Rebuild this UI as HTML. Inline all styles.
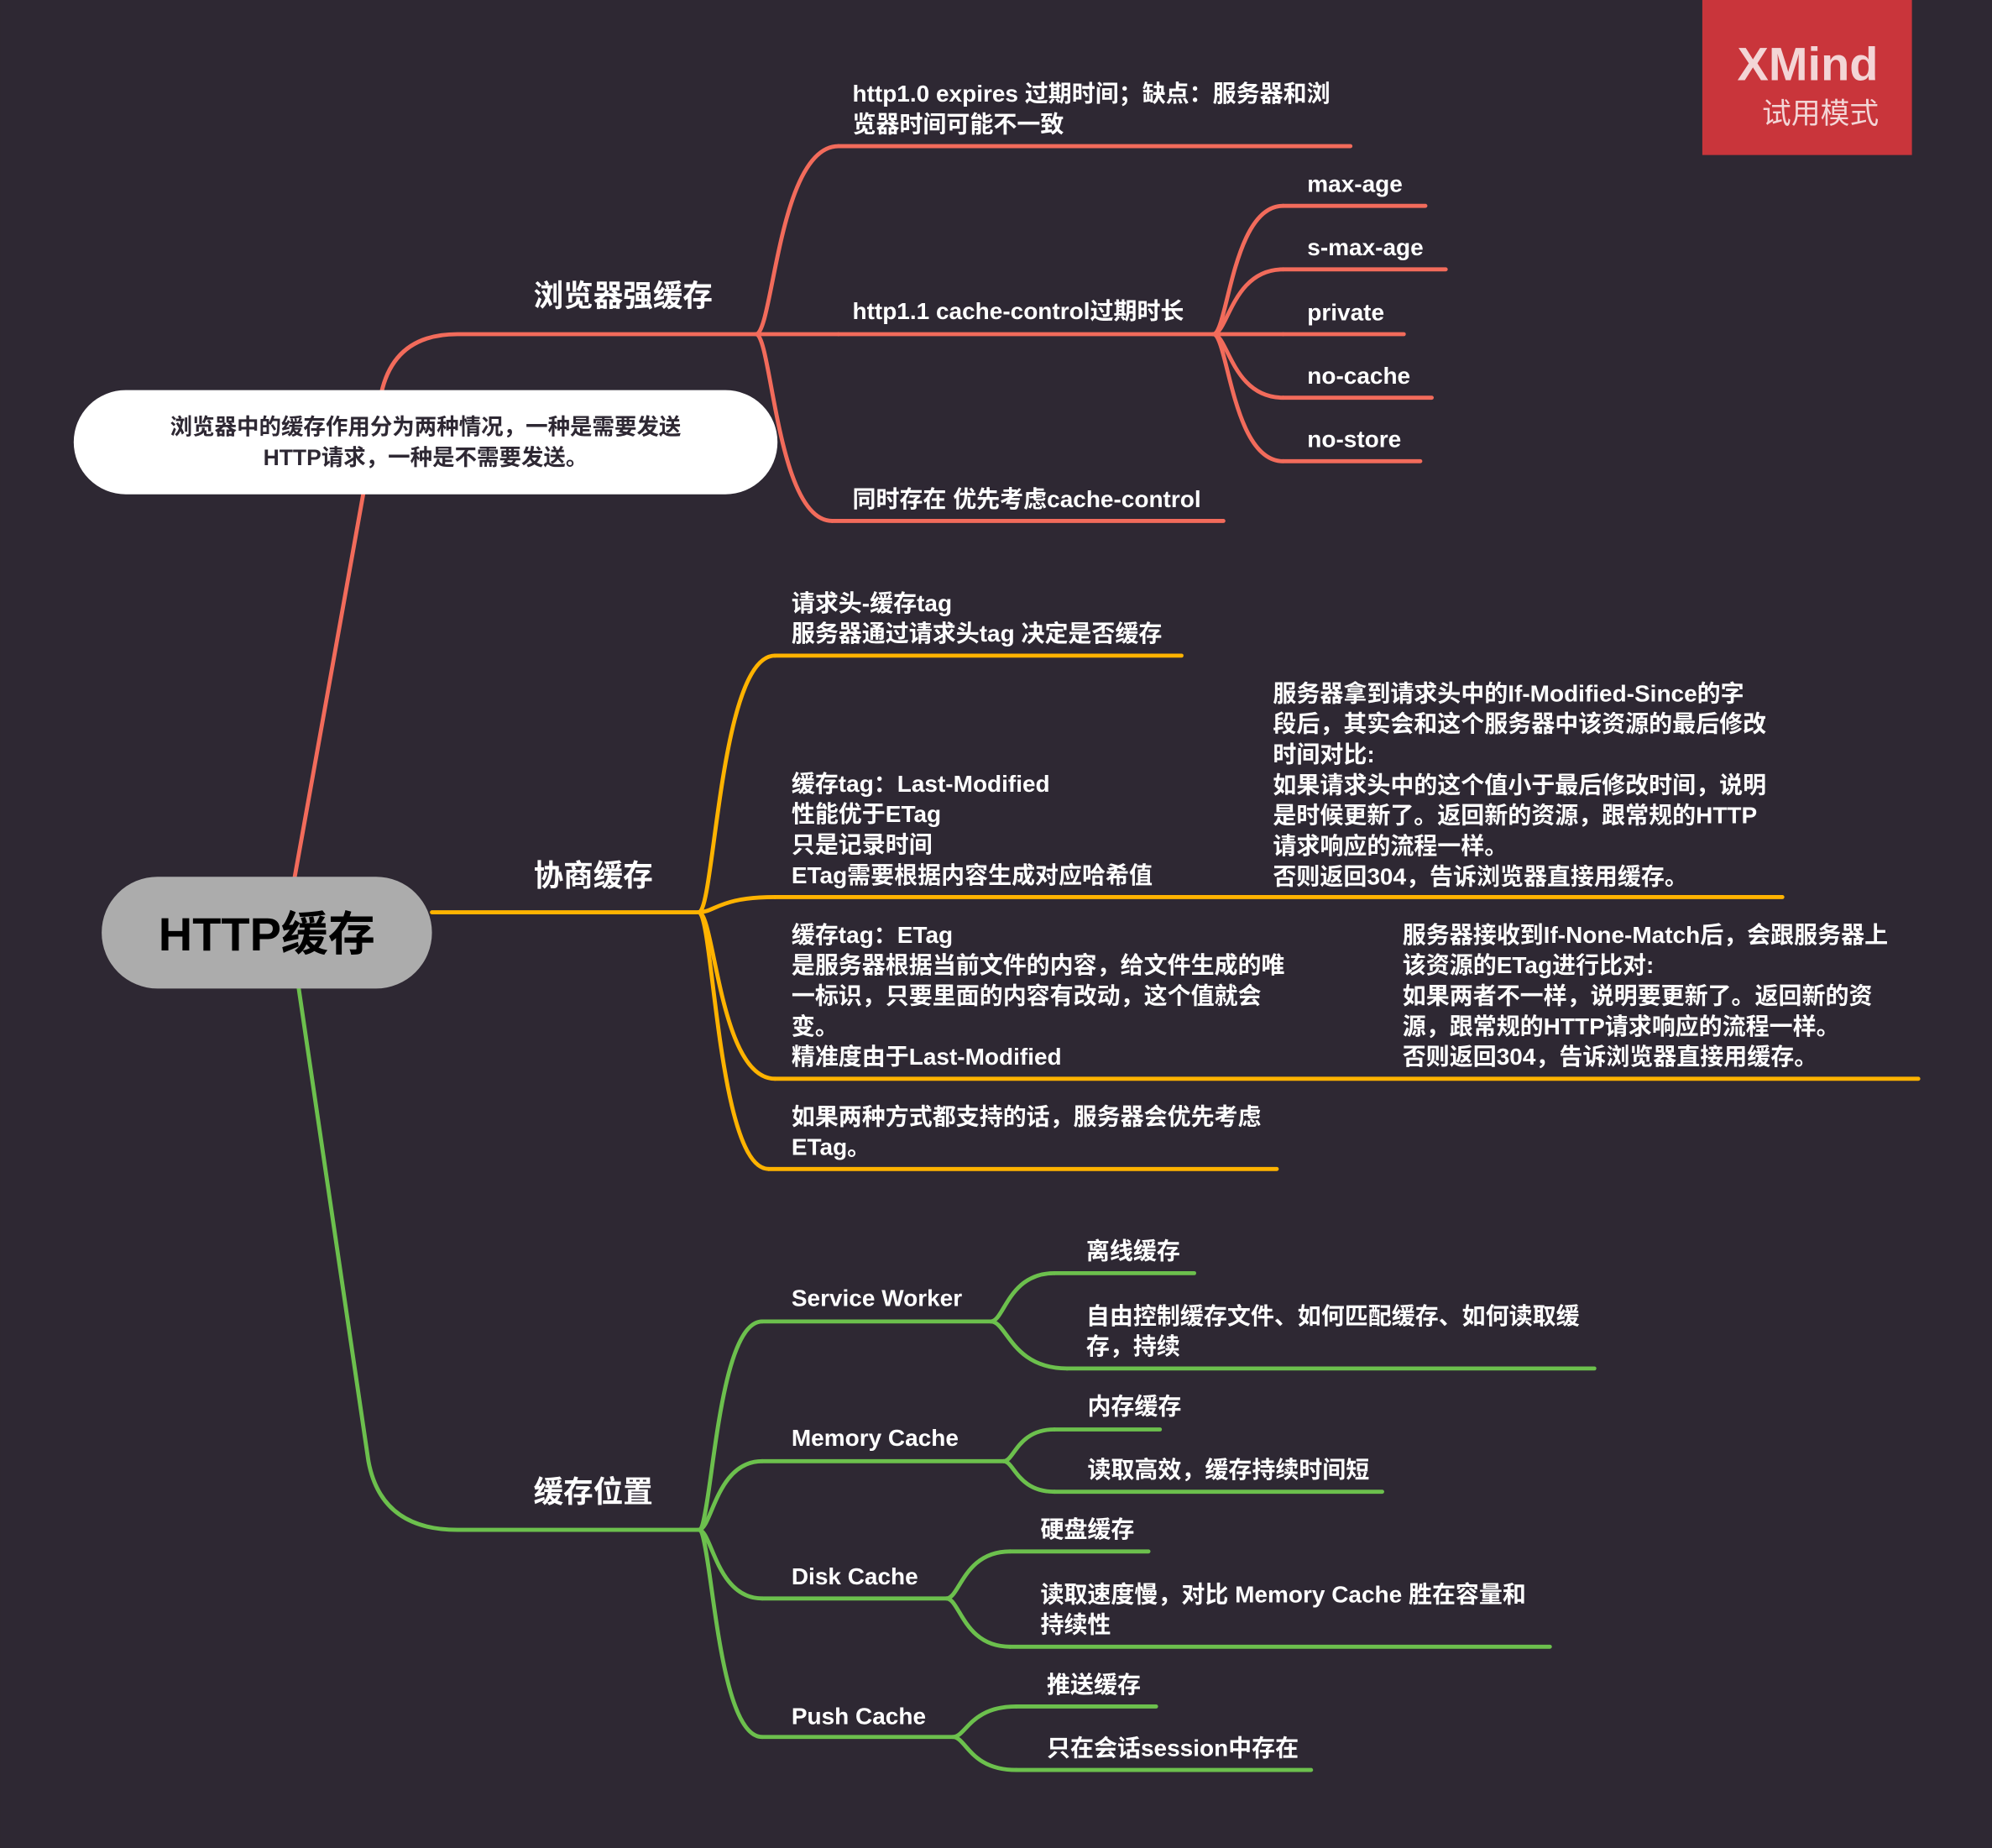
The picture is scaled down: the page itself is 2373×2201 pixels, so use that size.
<!DOCTYPE html>
<html><head><meta charset="utf-8"><style>
html,body{margin:0;padding:0;background:#2e2833;}
svg{display:block}
text{font-family:"Liberation Sans","Noto Sans CJK SC",sans-serif;fill:#fff;}
</style></head><body>
<svg id="m" width="2373" height="2201" viewBox="0 0 1568 1454.4" xmlns="http://www.w3.org/2000/svg">
<rect width="1568" height="1455" fill="#2e2833"/>
<g id="lines" fill="none" stroke-width="3.2" stroke-linecap="round"></g>
<g id="texts"></g>
<g>
<rect x="80" y="690" width="260" height="88" rx="44" fill="#acacac"/>
<text x="210" y="748" text-anchor="middle" font-size="37" font-weight="bold" style="fill:#000">HTTP缓存</text>
</g>
<g>
<rect x="58" y="307" width="554" height="82" rx="41" fill="#fff"/>
<text x="335" y="342" text-anchor="middle" font-size="17.5" font-weight="bold" style="fill:#2e2833">浏览器中的缓存作用分为两种情况，一种是需要发送</text>
<text x="335" y="366" text-anchor="middle" font-size="17.5" font-weight="bold" style="fill:#2e2833">HTTP请求，一种是不需要发送。</text>
</g>
<g>
<rect x="1340" y="0" width="165" height="122" fill="#c9353b"/>
<text x="1423" y="63" text-anchor="middle" font-size="37" font-weight="bold" style="fill:#f3d5d6">XMind</text>
<text x="1433" y="97" text-anchor="middle" font-size="23" style="fill:#f3d5d6">试用模式</text>
</g>
</svg>
<script>
const R='#f26b5b',O='#ffb300',G='#6cc04d';
const L=document.getElementById('lines'),T=document.getElementById('texts');
const NS='http://www.w3.org/2000/svg';
function curve(x0,y0,x1,y1,c,name){
  const p=document.createElementNS(NS,'path');
  const k=Math.min(45,(x1-x0)*0.6);
  p.setAttribute('d',`M${x0} ${y0} C${x0+k*0.35} ${y0},${x0+k*0.45} ${y1},${x1} ${y1}`);
  p.setAttribute('stroke',c);
  
  
  L.appendChild(p);
}
function line(x0,x1,y,c,name){
  const p=document.createElementNS(NS,'path');
  p.setAttribute('d',`M${x0} ${y} H${x1}`);
  p.setAttribute('stroke',c);
  
  
  L.appendChild(p);
}
function txt(x,y,lines,size,name,lh){
  lines.forEach((s,i)=>{
    const t=document.createElementNS(NS,'text');
    t.setAttribute('x',x);t.setAttribute('y',y+i*(lh||24));
    t.setAttribute('font-size',size);t.setAttribute('font-weight','bold');
    t.textContent=s;
    
    
    T.appendChild(t);
  });
}
function leaf(px,py,x,x1,y,c,lines,name,ty,tx){
  curve(px,py,x,y,c,name);line(x,x1,y,c,name);
  txt(tx,ty,lines,18.5,name);
}
// main branches
const r1=document.createElementNS(NS,'path');
r1.setAttribute('d','M232 690 L300 310 Q310 263 360 263 H595');
r1.setAttribute('stroke',R);


L.appendChild(r1);
txt(420,241,['浏览器强缓存'],23.5,'branch-strong-cache');
line(340,550,718,O,'branch-negotiate');
txt(420,697,['协商缓存'],23.5,'branch-negotiate-cache');
const g1=document.createElementNS(NS,'path');
g1.setAttribute('d','M235 777 L290 1150 Q300 1204 360 1204 H550');
g1.setAttribute('stroke',G);


L.appendChild(g1);
txt(420,1182,['缓存位置'],23.5,'branch-cache-location');
// red
leaf(595,263,660,1063,115,R,['http1.0 expires 过期时间；缺点：服务器和浏','览器时间可能不一致'],'expires-node',80,671);
leaf(595,263,660,955,263,R,['http1.1 cache-control过期时长'],'cache-control-node',251,671);
leaf(595,263,655,963,410,R,['同时存在 优先考虑cache-control'],'priority-node',399,671);
[['max-age',162,1122],['s-max-age',212,1138],['private',263,1105],['no-cache',313,1127],['no-store',363,1118]].forEach(a=>{
  leaf(955,263,1010,a[2],a[1],R,[a[0]],a[0]+'-node',a[1]-11,1029);
});
// orange
leaf(550,718,610,930,516,O,['请求头-缓存tag','服务器通过请求头tag 决定是否缓存'],'request-tag-node',481,623);
leaf(550,718,610,1403,706,O,['缓存tag：Last-Modified','性能优于ETag','只是记录时间','ETag需要根据内容生成对应哈希值'],'last-modified-node',623,623);
txt(1002,552,['服务器拿到请求头中的If-Modified-Since的字','段后，其实会和这个服务器中该资源的最后修改','时间对比:','如果请求头中的这个值小于最后修改时间，说明','是时候更新了。返回新的资源，跟常规的HTTP','请求响应的流程一样。','否则返回304，告诉浏览器直接用缓存。'],18.5,'last-modified-detail');
leaf(550,718,610,1510,849,O,['缓存tag：ETag','是服务器根据当前文件的内容，给文件生成的唯','一标识，只要里面的内容有改动，这个值就会','变。','精准度由于Last-Modified'],'etag-node',742,623);
txt(1104,742,['服务器接收到If-None-Match后，会跟服务器上','该资源的ETag进行比对:','如果两者不一样，说明要更新了。返回新的资','源，跟常规的HTTP请求响应的流程一样。','否则返回304，告诉浏览器直接用缓存。'],18.5,'etag-detail');
leaf(550,718,605,1005,920,O,['如果两种方式都支持的话，服务器会优先考虑','ETag。'],'etag-priority-node',885,623);
// green
leaf(550,1204,600,780,1040,G,['Service Worker'],'service-worker-node',1028,623);
leaf(550,1204,600,790,1150,G,['Memory Cache'],'memory-cache-node',1138,623);
leaf(550,1204,600,745,1258,G,['Disk Cache'],'disk-cache-node',1247,623);
leaf(550,1204,600,750,1367,G,['Push Cache'],'push-cache-node',1357,623);
leaf(780,1040,830,940,1002,G,['离线缓存'],'offline-cache-node',991,855);
leaf(780,1040,840,1255,1077,G,['自由控制缓存文件、如何匹配缓存、如何读取缓','存，持续'],'sw-control-node',1042,855);
leaf(790,1150,830,913,1125,G,['内存缓存'],'memory-node',1113,856);
leaf(790,1150,830,1088,1174,G,['读取高效，缓存持续时间短'],'memory-desc-node',1163,856);
leaf(745,1258,795,904,1221,G,['硬盘缓存'],'disk-node',1210,819);
leaf(745,1258,795,1220,1296,G,['读取速度慢，对比 Memory Cache 胜在容量和','持续性'],'disk-desc-node',1261,819);
leaf(750,1367,800,910,1343,G,['推送缓存'],'push-node',1332,824);
leaf(750,1367,800,1032,1393,G,['只在会话session中存在'],'push-desc-node',1382,824);
</script>
</body></html>
